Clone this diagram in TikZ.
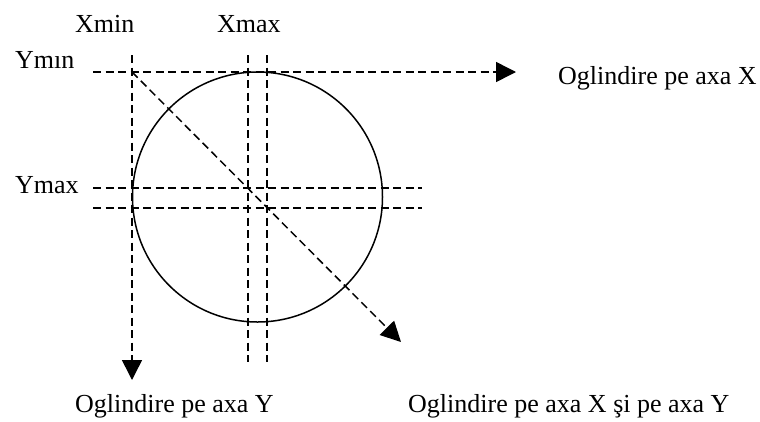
\documentclass[tikz,border=0pt]{standalone}
\usepackage{fontspec}
\setmainfont{Liberation Serif}
\usetikzlibrary{arrows.meta}
\begin{document}
\begin{tikzpicture}[x=1pt,y=-1pt,
  lbl/.style={inner sep=0pt,anchor=base west,font=\fontsize{26}{30}\selectfont},
  dline/.style={line width=1.5pt,dash pattern=on 8pt off 4.5pt},
  arr/.style={dline,-{Triangle[length=20pt,width=20pt]}}]
\useasboundingbox (0,0) rectangle (760,421);
% labels
\node[lbl] (xmin) at (75,32) {Xmin};
\node[lbl] (xmax) at (217,32) {Xmax};
\node[lbl] (ymin) at (15,68) {Ymın};
\node[lbl] (ymax) at (15,193) {Ymax};
\node[lbl] (ox) at (558,84) {Oglindire pe axa X};
\node[lbl] (oy) at (75,412) {Oglindire pe axa Y};
\node[lbl] (oxy) at (408,412) {Oglindire pe axa X şi pe axa Y};
% circle
\node[draw,circle,line width=1.5pt,minimum size=250pt,inner sep=0pt] (c) at (257.5,197) {};
% coordinates
\coordinate (v1s) at (132,55);  \coordinate (v1e) at (132,380);
\coordinate (v2s) at (248,55);  \coordinate (v2e) at (248,362);
\coordinate (v3s) at (267,55);  \coordinate (v3e) at (267,362);
\coordinate (h1s) at (93,72);   \coordinate (h1e) at (516,72);
\coordinate (h2s) at (93,188);  \coordinate (h2e) at (422,188);
\coordinate (h3s) at (93,208);  \coordinate (h3e) at (422,208);
\coordinate (ds) at (132,72);   \coordinate (de) at (401,342);
% lines
\draw[arr] (v1s) -- (v1e);
\draw[dline] (v2s) -- (v2e);
\draw[dline] (v3s) -- (v3e);
\draw[arr] (h1s) -- (h1e);
\draw[dline] (h2s) -- (h2e);
\draw[dline] (h3s) -- (h3e);
\draw[arr] (ds) -- (de);
\end{tikzpicture}
\end{document}
